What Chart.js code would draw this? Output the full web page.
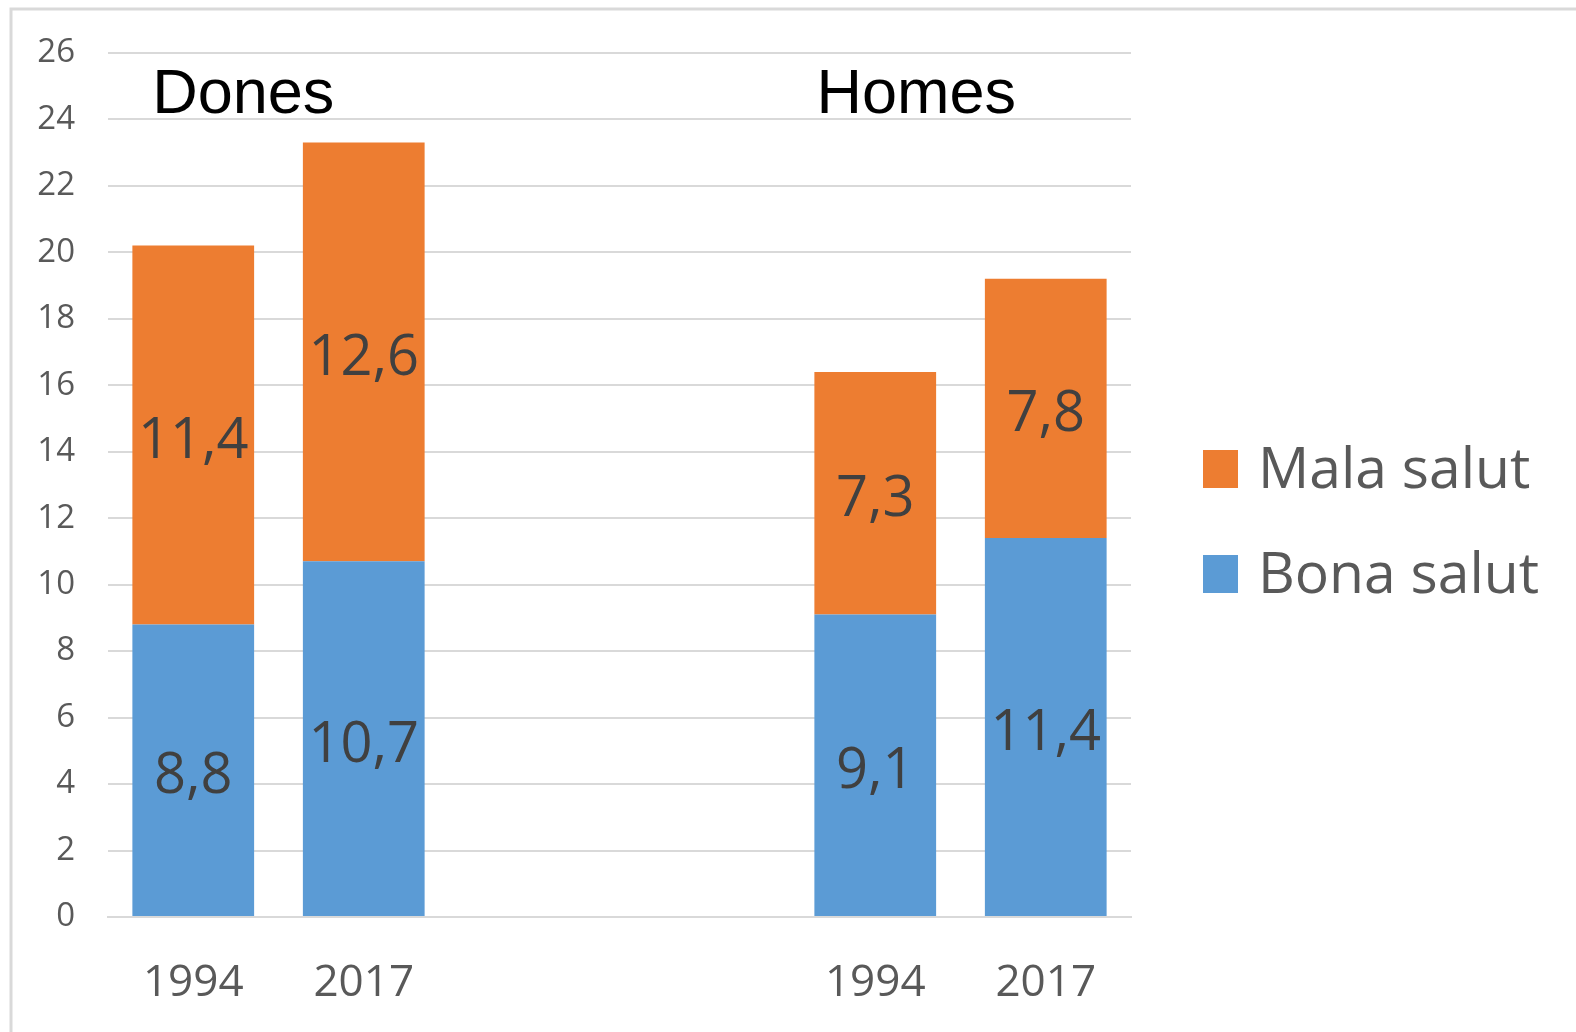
<!DOCTYPE html>
<html>
<head>
<meta charset="utf-8">
<script src="https://cdn.jsdelivr.net/npm/chart.js@4"></script>
<style>
    body { margin: 0; background: #fff; }
    #wrap { width: 1576px; height: 1032px; position: relative; }
</style>
</head>
<body>
<div id="wrap"><canvas id="salutChart"></canvas></div>
<script>
// Data
const categories = ['1994', '2017', '', '', '1994', '2017'];
const bonaSalut = [8.8, 10.7, null, null, 9.1, 11.4];
const malaSalut = [11.4, 12.6, null, null, 7.3, 7.8];
const yTicks = [0, 2, 4, 6, 8, 10, 12, 14, 16, 18, 20, 22, 24, 26];
const groupTitles = [
    { text: 'Dones', index: 0, offset: 50 },
    { text: 'Homes', index: 4, offset: 41 }
];

const BLUE = '#5B9BD5';
const ORANGE = '#ED7D31';

// Border, titles, value labels, legend
const decorPlugin = {
    id: 'decor',
    afterDraw(chart) {
        const ctx = chart.ctx;
        const x = chart.scales.x;
        const y = chart.scales.y;
        ctx.save();

        // outer frame (top + left visible)
        ctx.strokeStyle = '#d9d9d9';
        ctx.lineWidth = 3;
        ctx.strokeRect(11, 9, 2000, 2000);

        // group titles
        ctx.fillStyle = '#000';
        ctx.font = '63px "Liberation Sans", Arial, sans-serif';
        ctx.textAlign = 'center';
        ctx.textBaseline = 'alphabetic';
        groupTitles.forEach(t => {
            ctx.fillText(t.text, x.getPixelForValue(t.index) + t.offset, y.getPixelForValue(24.2));
        });

        // value labels
        ctx.fillStyle = '#404040';
        ctx.font = '56px "Open Sans", sans-serif';
        ctx.textBaseline = 'middle';
        chart.data.datasets.forEach((ds, di) => {
            chart.getDatasetMeta(di).data.forEach((bar, i) => {
                const v = ds.data[i];
                if (v == null) return;
                const mid = (bar.y + bar.base) / 2;
                ctx.fillText(v.toFixed(1).replace('.', ','), bar.x, mid + 7);
            });
        });

        // legend (reverse order)
        const legendX = 1203;
        const rows = [
            { ds: 1, y: 469 },
            { ds: 0, y: 574 }
        ];
        ctx.textAlign = 'left';
        ctx.font = '57px "Open Sans", sans-serif';
        rows.forEach(r => {
            const ds = chart.data.datasets[r.ds];
            ctx.fillStyle = ds.backgroundColor;
            ctx.fillRect(legendX, r.y - 19, 35, 38);
            ctx.fillStyle = '#595959';
            ctx.fillText(ds.label, legendX + 55, r.y + 3);
        });
        ctx.restore();
    }
};

const ctx = document.getElementById('salutChart').getContext('2d');
const salutChart = new Chart(ctx, {
    type: 'bar',
    data: {
        labels: categories,
        datasets: [
            {
                label: 'Bona salut',
                data: bonaSalut,
                backgroundColor: BLUE,
                barPercentage: 0.714,
                categoryPercentage: 1
            },
            {
                label: 'Mala salut',
                data: malaSalut,
                backgroundColor: ORANGE,
                barPercentage: 0.714,
                categoryPercentage: 1
            }
        ]
    },
    options: {
        responsive: true,
        maintainAspectRatio: false,
        animation: false,
        layout: {
            padding: { left: 0, right: 445, top: 52, bottom: 0 }
        },
        plugins: {
            legend: { display: false },
            tooltip: { enabled: false }
        },
        scales: {
            x: {
                stacked: true,
                grid: { display: false, drawTicks: false },
                border: { color: '#d9d9d9', width: 2 },
                ticks: {
                    color: '#595959',
                    font: { family: '"Open Sans", sans-serif', size: 44 },
                    padding: 40
                },
                afterFit(scale) { scale.height = 115; }
            },
            y: {
                stacked: true,
                min: 0,
                max: 26,
                afterBuildTicks(scale) {
                    scale.ticks = yTicks.map(v => ({ value: v }));
                },
                grid: { color: '#d9d9d9', lineWidth: 2, drawTicks: false },
                border: { display: false },
                ticks: {
                    color: '#595959',
                    font: { family: '"Open Sans", sans-serif', size: 33 },
                    padding: 33
                },
                afterFit(scale) { scale.width = 108; }
            }
        }
    },
    plugins: [decorPlugin]
});
</script>
</body>
</html>
